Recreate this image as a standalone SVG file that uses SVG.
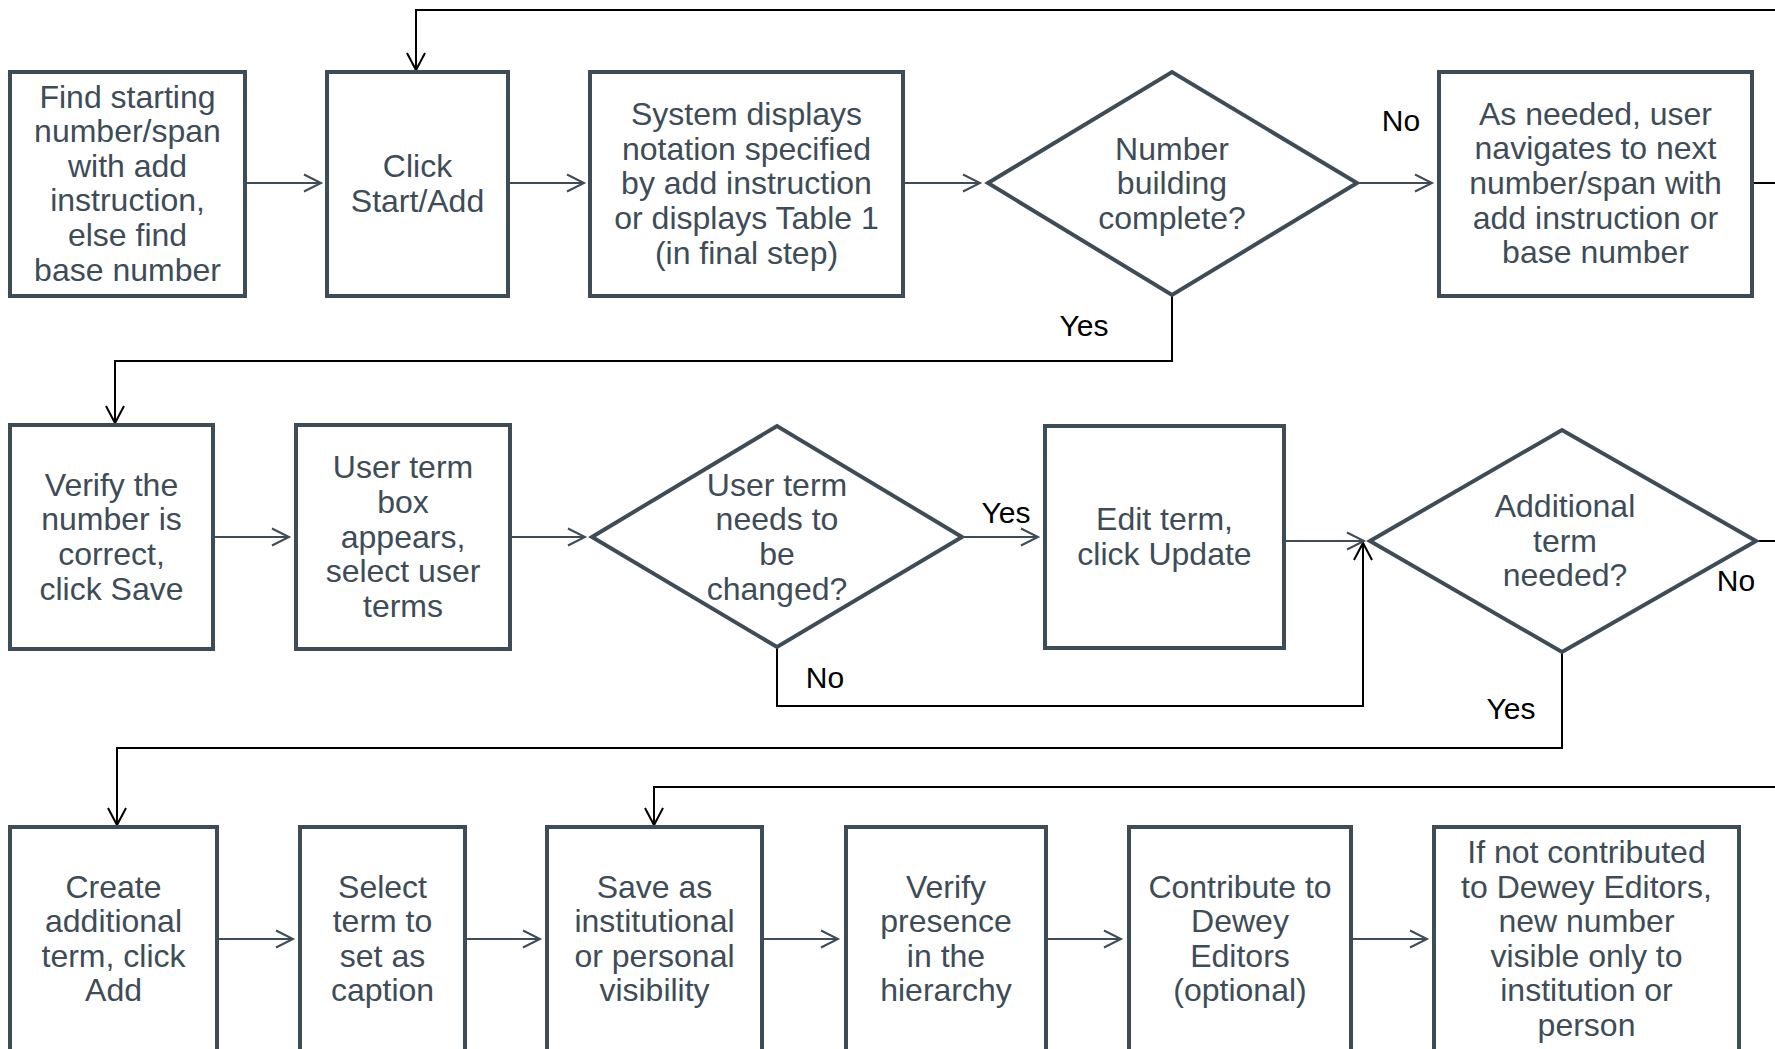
<svg xmlns="http://www.w3.org/2000/svg" width="1775" height="1049" viewBox="0 0 1775 1049">
<style>
.box{fill:#fff;stroke:#3e4c57;stroke-width:4;stroke-linejoin:miter}
.t{font-family:"Liberation Sans",Arial,sans-serif;font-size:32px;fill:#3e4c57;text-anchor:middle}
.lbl{font-family:"Liberation Sans",Arial,sans-serif;font-size:30px;fill:#000;text-anchor:middle}
.flow{fill:none;stroke:#3e4c57;stroke-width:2;marker-end:url(#ag)}
.loop{fill:none;stroke:#000;stroke-width:2;marker-end:url(#ab)}
.loopn{fill:none;stroke:#000;stroke-width:2}
</style>
<defs>
<marker id="ag" markerUnits="userSpaceOnUse" markerWidth="24" markerHeight="24" viewBox="0 0 24 24" refX="20" refY="12" orient="auto">
<path d="M3,3.5 L20,12 L3,20.5" fill="none" stroke="#3e4c57" stroke-width="2"/>
</marker>
<marker id="ab" markerUnits="userSpaceOnUse" markerWidth="24" markerHeight="24" viewBox="0 0 24 24" refX="20" refY="12" orient="auto">
<path d="M3,3 L20,12 L3,21" fill="none" stroke="#000" stroke-width="2"/>
</marker>
</defs>
<rect width="1775" height="1049" fill="#fff"/>

<g id="connectors">
<path class="flow" d="M245,183 H321"/>
<path class="flow" d="M508,183 H584"/>
<path class="flow" d="M903,183 H980"/>
<path class="flow" d="M1357,183 H1432"/>
<path class="loop" d="M1752,183 H1795 V10 H416 V70"/>
<path class="loop" d="M1172,295 V361 H115 V423"/>
<path class="flow" d="M213,537 H289"/>
<path class="flow" d="M510,537 H585"/>
<path class="flow" d="M962,537 H1038"/>
<path class="loop" d="M777,647 V706 H1363 V543"/>
<path class="flow" d="M1284,541 H1364"/>
<path class="loop" d="M1756,541 H1795 V787 H654 V825"/>
<path class="loop" d="M1562,652 V748 H117 V825"/>
<path class="flow" d="M217,939 H293"/>
<path class="flow" d="M465,939 H540"/>
<path class="flow" d="M762,939 H838"/>
<path class="flow" d="M1046,939 H1121"/>
<path class="flow" d="M1351,939 H1427"/>
<text class="lbl" x="1401" y="131">No</text>
<text class="lbl" x="1084" y="336">Yes</text>
<text class="lbl" x="1006" y="523">Yes</text>
<text class="lbl" x="825" y="688">No</text>
<text class="lbl" x="1736" y="591">No</text>
<text class="lbl" x="1511" y="719">Yes</text>
</g>

<g id="n1">
<rect class="box" x="10" y="72" width="235" height="224"/>
<text class="t" x="127.5" y="107.5"><tspan x="127.5">Find starting</tspan><tspan x="127.5" dy="34.6">number/span</tspan><tspan x="127.5" dy="34.6">with add</tspan><tspan x="127.5" dy="34.6">instruction,</tspan><tspan x="127.5" dy="34.6">else find</tspan><tspan x="127.5" dy="34.6">base number</tspan></text>
</g>
<g id="n2">
<rect class="box" x="327" y="72" width="181" height="224"/>
<text class="t" x="417.5" y="177"><tspan x="417.5">Click</tspan><tspan x="417.5" dy="34.6">Start/Add</tspan></text>
</g>
<g id="n3">
<rect class="box" x="590" y="72" width="313" height="224"/>
<text class="t" x="746.5" y="125.2"><tspan x="746.5">System displays</tspan><tspan x="746.5" dy="34.6">notation specified</tspan><tspan x="746.5" dy="34.6">by add instruction</tspan><tspan x="746.5" dy="34.6">or displays Table 1</tspan><tspan x="746.5" dy="34.6">(in final step)</tspan></text>
</g>
<g id="d1">
<polygon class="box" points="988,183 1172,72 1357,183 1172,295"/>
<text class="t" x="1172" y="159.8"><tspan x="1172">Number</tspan><tspan x="1172" dy="34.6">building</tspan><tspan x="1172" dy="34.6">complete?</tspan></text>
</g>
<g id="n4">
<rect class="box" x="1439" y="72" width="313" height="224"/>
<text class="t" x="1595.5" y="124.8"><tspan x="1595.5">As needed, user</tspan><tspan x="1595.5" dy="34.6">navigates to next</tspan><tspan x="1595.5" dy="34.6">number/span with</tspan><tspan x="1595.5" dy="34.6">add instruction or</tspan><tspan x="1595.5" dy="34.6">base number</tspan></text>
</g>

<g id="n5">
<rect class="box" x="10" y="425" width="203" height="224"/>
<text class="t" x="111.5" y="495.7"><tspan x="111.5">Verify the</tspan><tspan x="111.5" dy="34.6">number is</tspan><tspan x="111.5" dy="34.6">correct,</tspan><tspan x="111.5" dy="34.6">click Save</tspan></text>
</g>
<g id="n6">
<rect class="box" x="296" y="425" width="214" height="224"/>
<text class="t" x="403" y="478.4"><tspan x="403">User term</tspan><tspan x="403" dy="34.6">box</tspan><tspan x="403" dy="34.6">appears,</tspan><tspan x="403" dy="34.6">select user</tspan><tspan x="403" dy="34.6">terms</tspan></text>
</g>
<g id="d2">
<polygon class="box" points="592,537 777,426 962,537 777,647"/>
<text class="t" x="777" y="495.7"><tspan x="777">User term</tspan><tspan x="777" dy="34.6">needs to</tspan><tspan x="777" dy="34.6">be</tspan><tspan x="777" dy="34.6">changed?</tspan></text>
</g>
<g id="n7">
<rect class="box" x="1045" y="426" width="239" height="222"/>
<text class="t" x="1164.5" y="530.3"><tspan x="1164.5">Edit term,</tspan><tspan x="1164.5" dy="34.6">click Update</tspan></text>
</g>
<g id="d3">
<polygon class="box" points="1370,541 1562,430 1756,541 1562,652"/>
<text class="t" x="1565" y="516.9"><tspan x="1565">Additional</tspan><tspan x="1565" dy="34.6">term</tspan><tspan x="1565" dy="34.6">needed?</tspan></text>
</g>

<g id="nA">
<rect class="box" x="10" y="827" width="207" height="224"/>
<text class="t" x="113.5" y="897.6"><tspan x="113.5">Create</tspan><tspan x="113.5" dy="34.6">additional</tspan><tspan x="113.5" dy="34.6">term, click</tspan><tspan x="113.5" dy="34.6">Add</tspan></text>
</g>
<g id="nB">
<rect class="box" x="300" y="827" width="165" height="224"/>
<text class="t" x="382.5" y="897.6"><tspan x="382.5">Select</tspan><tspan x="382.5" dy="34.6">term to</tspan><tspan x="382.5" dy="34.6">set as</tspan><tspan x="382.5" dy="34.6">caption</tspan></text>
</g>
<g id="nC">
<rect class="box" x="547" y="827" width="215" height="224"/>
<text class="t" x="654.5" y="897.6"><tspan x="654.5">Save as</tspan><tspan x="654.5" dy="34.6">institutional</tspan><tspan x="654.5" dy="34.6">or personal</tspan><tspan x="654.5" dy="34.6">visibility</tspan></text>
</g>
<g id="nD">
<rect class="box" x="846" y="827" width="200" height="224"/>
<text class="t" x="946" y="897.6"><tspan x="946">Verify</tspan><tspan x="946" dy="34.6">presence</tspan><tspan x="946" dy="34.6">in the</tspan><tspan x="946" dy="34.6">hierarchy</tspan></text>
</g>
<g id="nE">
<rect class="box" x="1129" y="827" width="222" height="224"/>
<text class="t" x="1240" y="897.6"><tspan x="1240">Contribute to</tspan><tspan x="1240" dy="34.6">Dewey</tspan><tspan x="1240" dy="34.6">Editors</tspan><tspan x="1240" dy="34.6">(optional)</tspan></text>
</g>
<g id="nF">
<rect class="box" x="1434" y="827" width="305" height="224"/>
<text class="t" x="1586.5" y="863"><tspan x="1586.5">If not contributed</tspan><tspan x="1586.5" dy="34.6">to Dewey Editors,</tspan><tspan x="1586.5" dy="34.6">new number</tspan><tspan x="1586.5" dy="34.6">visible only to</tspan><tspan x="1586.5" dy="34.6">institution or</tspan><tspan x="1586.5" dy="34.6">person</tspan></text>
</g>
</svg>
